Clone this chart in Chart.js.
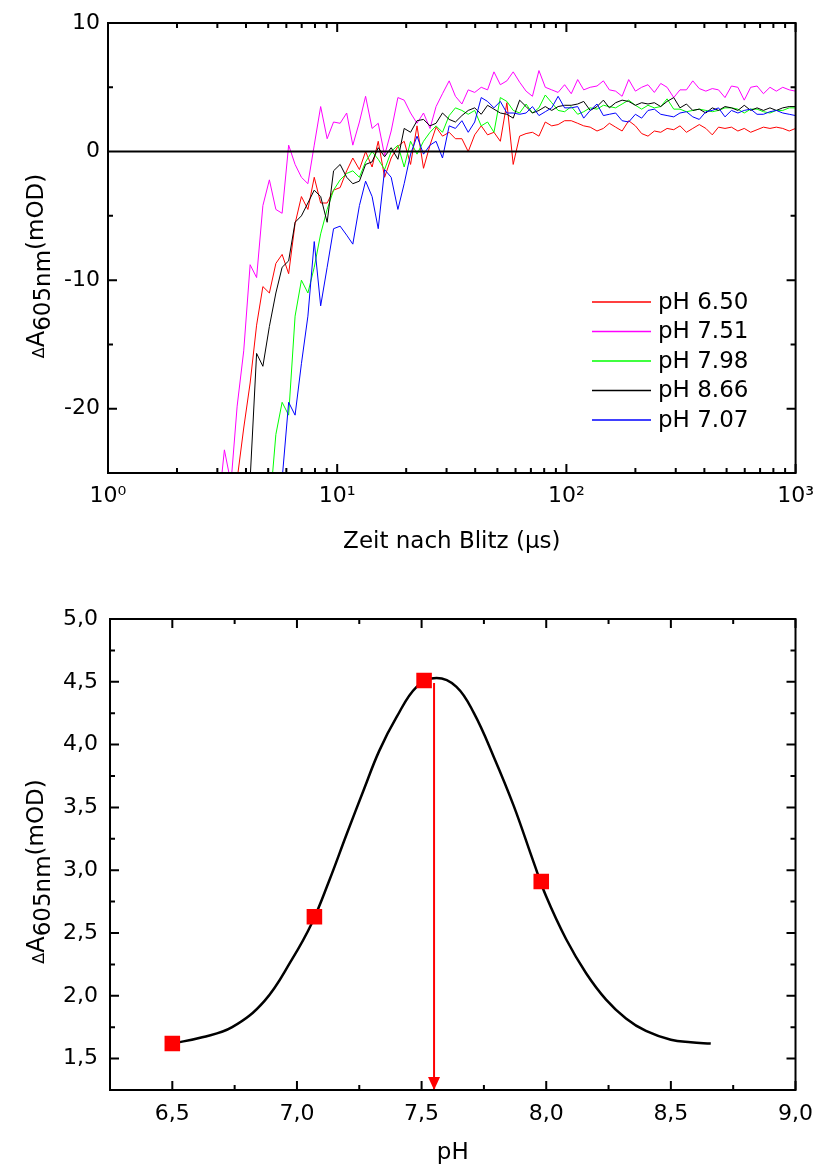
<!DOCTYPE html>
<html lang="de">
<head>
<meta charset="utf-8">
<title>ΔA605nm – Kinetik und pH-Abhängigkeit</title>
<script src="https://cdn.jsdelivr.net/npm/chart.js@4.4.1/dist/chart.umd.min.js"></script>
<style>
  html, body { margin: 0; padding: 0; background: #fff; }
  #seite { position: relative; width: 824px; height: 1167px; }
  canvas { position: absolute; left: 0; display: block; }
  #kinetik { top: 0; }
  #titration { top: 580px; }
</style>
</head>
<body>
<div id="seite">
  <canvas id="kinetik" width="824" height="580"></canvas>
  <canvas id="titration" width="824" height="587"></canvas>
</div>
<script>
// ---- oberes Diagramm: Zeitverlauf nach dem Blitz ----
const zeit = [3.02, 3.22, 3.44, 3.66, 3.91, 4.17, 4.45, 4.74, 5.06, 5.40,
  5.75, 6.14, 6.55, 6.98, 7.45, 7.94, 8.47, 9.04, 9.64, 10.3,
  11.0, 11.7, 12.5, 13.3, 14.2, 15.1, 16.1, 17.2, 18.4, 19.6,
  20.9, 22.3, 23.8, 25.4, 27.0, 28.8, 30.8, 32.8, 35.0, 37.3,
  39.8, 42.5, 45.3, 48.3, 51.5, 55.0, 58.6, 62.5, 66.7, 71.1,
  75.9, 80.9, 86.3, 92.0, 98.2, 105, 112, 119, 127, 136,
  145, 154, 164, 175, 187, 200, 213, 227, 242, 258,
  275, 294, 313, 334, 356, 380, 406, 433, 461, 492,
  525, 560, 597, 637, 679, 724, 773, 824, 879, 938,
  1000];

const ph650 = [-28, -28, -28, -25.5, -21.5, -18.0, -13.5, -10.5, -11.0, -8.7,
  -8.0, -9.5, -5.6, -3.5, -4.5, -2.0, -4.0, -4.0, -3.0, -2.8,
  -1.5, -0.5, -1.4, 0.0, -1.2, 0.8, -2.0, -0.5, 0.4, 0.8,
  -1.0, 2.0, -1.3, 0.5, 1.9, 1.2, 1.5, 1.0, 1.0, 0.0,
  1.3, 2.0, 1.3, 1.5, 0.8, 3.8, -1.0, 1.2, 1.4, 1.5,
  1.2, 2.3, 2.0, 2.1, 2.4, 2.4, 2.2, 2.0, 1.9, 1.6,
  1.8, 2.2, 1.9, 1.6, 2.4, 2.0, 1.4, 1.2, 1.6, 1.5,
  1.8, 1.7, 2.0, 1.5, 1.8, 2.1, 1.8, 1.3, 1.9, 1.8,
  1.9, 1.6, 1.8, 1.5, 1.7, 1.9, 1.8, 1.9, 1.8, 1.6,
  1.8];

const ph751 = [-28, -23.2, -25.8, -19.8, -15.5, -8.8, -9.8, -4.2, -2.2, -4.5,
  -4.8, 0.5, -1.0, -2.0, -2.5, 0.5, 3.5, 1.0, 2.3, 2.2,
  3.0, 0.5, 2.3, 4.3, 1.8, 2.2, -0.3, 1.6, 4.2, 4.0,
  3.0, 2.2, 3.0, 1.8, 3.5, 4.5, 5.5, 4.3, 3.7, 4.8,
  4.6, 5.0, 4.8, 6.2, 5.2, 5.5, 6.2, 5.4, 4.7, 4.3,
  6.3, 5.0, 4.8, 4.6, 5.2, 4.5, 5.6, 4.8, 5.0, 5.1,
  5.5, 4.8, 4.7, 4.3, 5.6, 4.7, 5.0, 5.2, 4.6, 5.3,
  5.0, 4.2, 4.8, 4.8, 5.5, 4.9, 4.7, 4.9, 4.8, 4.2,
  5.1, 5.0, 4.0, 5.0, 5.1, 4.5, 5.0, 4.7, 5.0, 4.8,
  4.7];

const ph798 = [-28, -28, -28, -28, -28, -28, -28, -28, -28, -22.0,
  -19.5, -20.5, -12.8, -10.0, -11.0, -9.0, -6.4, -4.5, -3.0, -2.2,
  -1.7, -1.5, -2.0, -0.8, 0.0, -0.6, -1.4, 0.0, 0.5, -1.2,
  0.8, -0.2, 0.8, 1.5, 2.0, 1.5, 2.8, 3.4, 3.2, 2.9,
  3.2, 2.0, 2.3, 1.5, 4.2, 3.9, 3.2, 3.0, 3.7, 3.0,
  3.4, 4.4, 3.8, 3.2, 3.1, 3.5, 2.9, 3.1, 3.4, 3.3,
  3.6, 3.5, 3.4, 3.7, 4.0, 3.6, 3.3, 3.6, 3.4, 3.5,
  4.1, 3.3, 3.3, 3.1, 3.2, 3.3, 3.2, 3.1, 3.2, 3.4,
  3.4, 3.3, 3.0, 3.3, 3.3, 3.1, 3.0, 3.2, 3.2, 3.4,
  3.4];

const ph866 = [-28, -28, -28, -28, -28, -25.5, -15.7, -16.7, -13.6, -11.0,
  -9.0, -8.5, -5.5, -5.0, -4.0, -3.0, -3.5, -5.5, -1.5, -1.0,
  -2.0, -2.5, -2.3, -1.0, -0.8, 0.3, -0.4, 0.3, -0.6, 1.8,
  1.5, 2.4, 2.5, 2.0, 2.2, 3.0, 2.5, 2.3, 2.8, 3.2,
  3.4, 2.9, 3.6, 3.3, 3.0, 2.9, 2.6, 4.0, 3.5, 3.0,
  3.2, 3.5, 3.2, 3.5, 3.6, 3.6, 3.7, 3.9, 3.2, 3.5,
  4.0, 3.4, 3.8, 4.0, 3.9, 3.6, 3.8, 3.7, 3.8, 3.5,
  3.9, 4.2, 3.4, 3.7, 3.2, 3.3, 3.0, 3.4, 3.2, 3.5,
  3.4, 3.2, 3.6, 3.2, 3.4, 3.2, 3.4, 3.2, 3.4, 3.5,
  3.5];

const ph707 = [-28, -28, -28, -28, -28, -28, -28, -28, -28, -28,
  -25.5, -19.5, -20.5, -16.5, -12.8, -7.0, -12.0, -9.0, -6.0, -5.8,
  -6.5, -7.2, -4.2, -2.3, -3.5, -6.0, -1.4, -2.0, -4.5, -2.5,
  -0.2, 1.2, -0.2, 0.5, 0.8, -0.5, 2.0, 1.8, 2.4, 1.5,
  2.3, 4.2, 3.9, 3.4, 3.9, 3.0, 3.0, 2.9, 3.0, 3.5,
  2.8, 3.1, 3.4, 4.3, 3.4, 3.4, 3.5, 2.6, 3.2, 3.7,
  2.8, 2.9, 3.0, 2.4, 2.3, 2.9, 2.6, 3.2, 3.3, 2.9,
  2.8, 2.7, 3.0, 3.1, 2.7, 2.5, 3.1, 3.2, 3.4, 2.7,
  3.2, 3.0, 3.2, 3.3, 2.9, 2.9, 3.1, 3.2, 3.0, 2.9,
  2.8];

const reihenNamen = ['pH 6.50', 'pH 7.51', 'pH 7.98', 'pH 8.66', 'pH 7.07'];
const reihenFarben = ['#ff0000', '#ff00ff', '#00ff00', '#000000', '#0000ff'];
const reihen = [ph650, ph751, ph798, ph866, ph707];

const zeitTicks = [1, 10, 100, 1000];
const zeitTickLabels = ['10⁰', '10¹', '10²', '10³'];
const dATicks = [-20, -10, 0, 10];
const dATickLabels = ['-20', '-10', '0', '10'];

// ---- unteres Diagramm: Amplitude gegen pH ----
const phWerte = [6.50, 7.07, 7.51, 7.98];
const dAWerte = [1.62, 2.63, 4.51, 2.91];

const fitPH = [6.50, 6.62, 6.74, 6.87, 6.98, 7.06, 7.13, 7.20, 7.27, 7.33,
  7.40, 7.48, 7.56, 7.64, 7.71, 7.79, 7.87,
  7.95, 8.00, 8.08, 8.16, 8.24, 8.32, 8.40, 8.50, 8.58, 8.66];
const fitWerte = [1.62, 1.67, 1.75, 1.96, 2.29, 2.58, 2.92, 3.29, 3.65, 3.95,
  4.22, 4.46, 4.53, 4.46, 4.25, 3.90, 3.51,
  3.06, 2.79, 2.45, 2.18, 1.97, 1.82, 1.72, 1.65, 1.63, 1.62];

const pfeilPH = 7.55;
const pfeilVon = 4.49;
const pfeilBis = 1.25;

const phTicks = [6.5, 7.0, 7.5, 8.0, 8.5, 9.0];
const phTickLabels = ['6,5', '7,0', '7,5', '8,0', '8,5', '9,0'];
const ampTicks = [1.5, 2.0, 2.5, 3.0, 3.5, 4.0, 4.5, 5.0];
const ampTickLabels = ['1,5', '2,0', '2,5', '3,0', '3,5', '4,0', '4,5', '5,0'];

Chart.defaults.font.family = '"DejaVu Sans", sans-serif';
Chart.defaults.color = '#000';

const SCHRIFT = '"DejaVu Sans", sans-serif';

// Rahmen, Ticks nach innen, optionale Nulllinie
const rahmen = {
  id: 'rahmen',
  afterDatasetsDraw(chart, args, o) {
    const { ctx, chartArea: a, scales: { x, y } } = chart;
    ctx.save();
    ctx.strokeStyle = '#000';
    ctx.lineWidth = 2;
    ctx.beginPath();
    if (o.nulllinie) {
      const py = y.getPixelForValue(0);
      ctx.moveTo(a.left, py);
      ctx.lineTo(a.right, py);
    }
    const xStrich = (v, l) => {
      const p = x.getPixelForValue(v);
      ctx.moveTo(p, a.bottom); ctx.lineTo(p, a.bottom - l);
      ctx.moveTo(p, a.top); ctx.lineTo(p, a.top + l);
    };
    const yStrich = (v, l) => {
      const p = y.getPixelForValue(v);
      ctx.moveTo(a.left, p); ctx.lineTo(a.left + l, p);
      ctx.moveTo(a.right, p); ctx.lineTo(a.right - l, p);
    };
    o.xHaupt.forEach(v => xStrich(v, 9));
    o.xNeben.forEach(v => xStrich(v, 5));
    o.yHaupt.forEach(v => yStrich(v, 9));
    o.yNeben.forEach(v => yStrich(v, 5));
    ctx.stroke();
    ctx.strokeRect(a.left, a.top, a.width, a.height);
    ctx.restore();
  }
};

// y-Achsentitel mit Index: ΔA605nm(mOD)
const yTitel = {
  id: 'yTitel',
  afterDraw(chart, args, o) {
    const { ctx, chartArea: a } = chart;
    const teile = [
      { t: 'Δ', px: 16, dy: 0 },
      { t: 'A', px: 24, dy: 0 },
      { t: '605nm', px: 23, dy: 6 },
      { t: '(mOD)', px: 23, dy: -1 }
    ];
    ctx.save();
    ctx.translate(o.x, (a.top + a.bottom) / 2 + o.dy);
    ctx.rotate(-Math.PI / 2);
    ctx.fillStyle = '#000';
    ctx.textBaseline = 'alphabetic';
    let breite = 0;
    teile.forEach(s => {
      ctx.font = s.px + 'px ' + SCHRIFT;
      s.w = ctx.measureText(s.t).width;
      breite += s.w;
    });
    let pos = -breite / 2;
    teile.forEach(s => {
      ctx.font = s.px + 'px ' + SCHRIFT;
      ctx.fillText(s.t, pos, s.dy);
      pos += s.w;
    });
    ctx.restore();
  }
};

// Legende im Diagramm, rechts unten
const legende = {
  id: 'legende',
  afterDraw(chart) {
    const { ctx, chartArea: a } = chart;
    ctx.save();
    ctx.font = '23px ' + SCHRIFT;
    ctx.textBaseline = 'middle';
    ctx.fillStyle = '#000';
    chart.data.datasets.forEach((ds, i) => {
      const yy = a.top + 279 + i * 29.5;
      ctx.strokeStyle = ds.borderColor;
      ctx.lineWidth = 1.5;
      ctx.beginPath();
      ctx.moveTo(a.left + 484, yy);
      ctx.lineTo(a.left + 543, yy);
      ctx.stroke();
      ctx.fillText(ds.label, a.left + 550, yy + 1);
    });
    ctx.restore();
  }
};

const pfeilspitze = {
  id: 'pfeilspitze',
  afterDatasetsDraw(chart) {
    const { ctx, scales: { x, y } } = chart;
    const px = x.getPixelForValue(pfeilPH);
    const py = y.getPixelForValue(pfeilBis);
    ctx.save();
    ctx.fillStyle = '#ff0000';
    ctx.beginPath();
    ctx.moveTo(px, py);
    ctx.lineTo(px - 6, py - 13);
    ctx.lineTo(px + 6, py - 13);
    ctx.closePath();
    ctx.fill();
    ctx.restore();
  }
};

const tickSchrift = { size: 22 };

new Chart(document.getElementById('kinetik'), {
  type: 'line',
  data: {
    datasets: reihen.map((werte, i) => ({
      label: reihenNamen[i],
      data: zeit.map((t, k) => ({ x: t, y: werte[k] })),
      borderColor: reihenFarben[i],
      borderWidth: 1,
      pointRadius: 0,
      tension: 0,
      order: reihen.length - i
    }))
  },
  options: {
    responsive: false,
    animation: false,
    devicePixelRatio: 1,
    layout: { padding: { top: 23, right: 27, left: 0, bottom: 0 } },
    plugins: {
      legend: { display: false },
      tooltip: { enabled: false },
      rahmen: {
        nulllinie: true,
        xHaupt: zeitTicks,
        xNeben: [1, 10, 100].flatMap(d => [2, 3, 4, 5, 6, 7, 8, 9].map(m => m * d)),
        yHaupt: dATicks,
        yNeben: [-15, -5, 5]
      },
      yTitel: { x: 44, dy: 18 }
    },
    scales: {
      x: {
        type: 'logarithmic',
        min: 1,
        max: 1000,
        grid: { display: false, drawTicks: false },
        border: { display: false },
        afterBuildTicks: s => { s.ticks = zeitTicks.map(v => ({ value: v })); },
        afterFit: s => { s.height = 107; },
        ticks: {
          callback: v => zeitTickLabels[zeitTicks.indexOf(v)],
          padding: 10, maxRotation: 0, autoSkip: false, font: tickSchrift, color: '#000'
        },
        title: {
          display: true, text: 'Zeit nach Blitz (µs)', color: '#000',
          font: { size: 23 }, padding: { top: 0, bottom: 24 }
        }
      },
      y: {
        min: -25,
        max: 10,
        grid: { display: false, drawTicks: false },
        border: { display: false },
        afterBuildTicks: s => { s.ticks = dATicks.map(v => ({ value: v })); },
        afterFit: s => { s.width = 108; },
        ticks: {
          callback: v => dATickLabels[dATicks.indexOf(v)],
          padding: 8, autoSkip: false, font: tickSchrift, color: '#000'
        }
      }
    }
  },
  plugins: [rahmen, legende, yTitel]
});

new Chart(document.getElementById('titration'), {
  type: 'line',
  data: {
    datasets: [
      {
        label: 'Messwerte',
        data: phWerte.map((p, i) => ({ x: p, y: dAWerte[i] })),
        showLine: false,
        pointStyle: 'rect',
        pointRadius: 11,
        pointBackgroundColor: '#ff0000',
        pointBorderColor: '#ff0000',
        pointBorderWidth: 0,
        order: 0
      },
      {
        label: 'pK',
        data: [{ x: pfeilPH, y: pfeilVon }, { x: pfeilPH, y: pfeilBis }],
        borderColor: '#ff0000',
        borderWidth: 2,
        pointRadius: 0,
        order: 1
      },
      {
        label: 'Anpassung',
        data: fitPH.map((p, i) => ({ x: p, y: fitWerte[i] })),
        borderColor: '#000000',
        borderWidth: 2.5,
        pointRadius: 0,
        tension: 0.4,
        order: 2
      }
    ]
  },
  options: {
    responsive: false,
    animation: false,
    devicePixelRatio: 1,
    layout: { padding: { top: 39, right: 20, left: 0, bottom: 0 } },
    plugins: {
      legend: { display: false },
      tooltip: { enabled: false },
      rahmen: {
        nulllinie: false,
        xHaupt: phTicks,
        xNeben: [6.75, 7.25, 7.75, 8.25, 8.75],
        yHaupt: ampTicks,
        yNeben: [1.75, 2.25, 2.75, 3.25, 3.75, 4.25, 4.75]
      },
      yTitel: { x: 44, dy: 17 }
    },
    scales: {
      x: {
        type: 'linear',
        min: 6.25,
        max: 9.0,
        grid: { display: false, drawTicks: false },
        border: { display: false },
        afterBuildTicks: s => { s.ticks = phTicks.map(v => ({ value: v })); },
        afterFit: s => { s.height = 77; },
        ticks: {
          callback: v => phTickLabels[phTicks.indexOf(v)],
          padding: 11, maxRotation: 0, autoSkip: false, font: tickSchrift, color: '#000'
        },
        title: {
          display: true, text: 'pH', color: '#000',
          font: { size: 23 }, padding: { top: 0, bottom: 0 }
        }
      },
      y: {
        min: 1.25,
        max: 5.0,
        grid: { display: false, drawTicks: false },
        border: { display: false },
        afterBuildTicks: s => { s.ticks = ampTicks.map(v => ({ value: v })); },
        afterFit: s => { s.width = 110; },
        ticks: {
          callback: v => ampTickLabels[ampTicks.indexOf(v)],
          padding: 12, autoSkip: false, font: tickSchrift, color: '#000'
        }
      }
    }
  },
  plugins: [pfeilspitze, rahmen, yTitel]
});
</script>
</body>
</html>
